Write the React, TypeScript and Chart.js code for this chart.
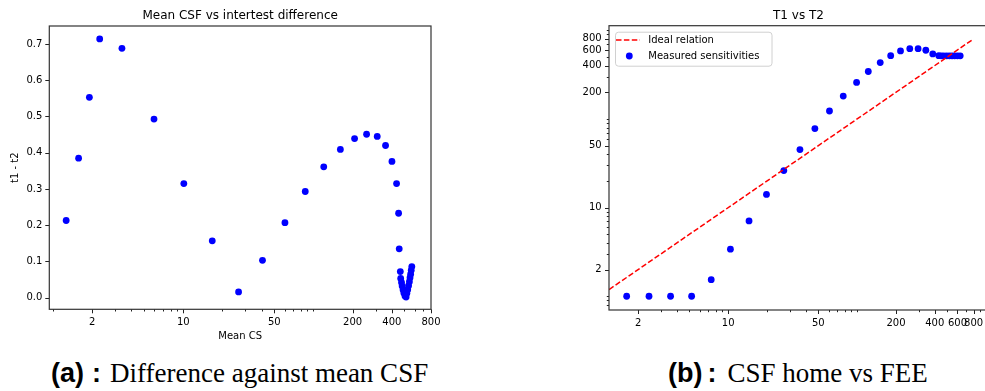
import React, { useEffect, useRef } from "react";
import { Chart, registerables } from "chart.js";
Chart.register(...registerables);

const FONT = "'DejaVu Sans', sans-serif";

// ---- Left chart: Mean CSF vs intertest difference ----
const meanCS = [
  1.26, 1.57, 1.9, 2.28, 3.38, 5.96, 10.1, 16.7, 26.6, 40.6, 60.4, 86.5, 120, 161, 207, 256, 309, 358, 401, 435, 451, 456,
  465, 468, 475, 480, 488, 495, 505, 515, 522, 530, 538, 546, 552, 558, 564, 570,
];
const diffT1T2 = [
  0.213, 0.385, 0.553, 0.714, 0.688, 0.493, 0.315, 0.157, 0.016, 0.103, 0.207, 0.293, 0.361, 0.409, 0.439, 0.451, 0.445, 0.42, 0.376, 0.315, 0.233, 0.135,
  0.072, 0.053, 0.042, 0.032, 0.022, 0.013, 0.005, 0.002, 0.012, 0.022, 0.033, 0.044, 0.055, 0.065, 0.076, 0.086,
];
const leftXTicks = [2, 10, 50, 200, 400, 800];
const leftYTicks = [0, 0.1, 0.2, 0.3, 0.4, 0.5, 0.6, 0.7];

// ---- Right chart: T1 vs T2 ----
const homeCSF = [
  1.63, 2.43, 3.57, 5.2, 7.38, 10.4, 14.5, 19.8, 27, 36, 47, 61, 78, 99, 122, 151, 182, 217, 256, 297, 341, 386,
  430, 450, 470, 495, 520, 545, 570, 600, 630,
];
const feeCSF = [
  1, 1, 1, 1, 1.54, 3.4, 7.07, 14.1, 26.2, 45.2, 77.8, 123, 181, 258, 343, 433, 518, 585, 621, 621, 596, 541,
  518, 515, 515, 515, 515, 515, 515, 515, 515,
];
const idealX = [1.19, 800];
const rightTicks = [2, 10, 50, 200, 400, 600, 800];

function minorLog(min: number, max: number, majors: number[]) {
  const out: number[] = [];
  for (let e = -1; e <= 4; e++) {
    for (let m = 1; m <= 9; m++) {
      const v = e < 0 ? m / 10 : m * Math.pow(10, e);
      if (v >= min && v <= max && !majors.includes(v)) out.push(v);
    }
  }
  return out;
}

function framePlugin(cfg: {
  title: string;
  xMajors: number[];
  xMinors: number[];
  yMajors: number[];
  yMinors: number[];
  legend?: boolean;
}) {
  return {
    id: "frameDecor",
    afterDatasetsDraw(chart: any) {
      const { ctx, chartArea: a, scales } = chart;
      const xs = scales.x;
      const ys = scales.y;
      ctx.save();
      ctx.strokeStyle = "#222";
      ctx.lineWidth = 1;
      const tx = (v: number, len: number) => {
        const p = Math.round(xs.getPixelForValue(v)) + 0.5;
        ctx.beginPath();
        ctx.moveTo(p, a.bottom);
        ctx.lineTo(p, a.bottom + len);
        ctx.stroke();
      };
      const ty = (v: number, len: number) => {
        const p = Math.round(ys.getPixelForValue(v)) + 0.5;
        ctx.beginPath();
        ctx.moveTo(a.left, p);
        ctx.lineTo(a.left - len, p);
        ctx.stroke();
      };
      cfg.xMajors.forEach((v) => tx(v, 4));
      cfg.xMinors.forEach((v) => tx(v, 2.2));
      cfg.yMajors.forEach((v) => ty(v, 4));
      cfg.yMinors.forEach((v) => ty(v, 2.2));
      ctx.strokeStyle = "#333";
      ctx.lineWidth = 1.2;
      ctx.strokeRect(a.left, a.top, a.right - a.left, a.bottom - a.top);
      ctx.fillStyle = "#000";
      ctx.font = `12px ${FONT}`;
      ctx.textAlign = "center";
      ctx.textBaseline = "middle";
      ctx.fillText(cfg.title, (a.left + a.right) / 2, 15.5);

      if (cfg.legend) {
        const lx = a.left + 6;
        const ly = a.top + 6;
        const w = 156.5;
        const h = 34;
        ctx.beginPath();
        ctx.roundRect(lx + 0.5, ly + 0.5, w, h, 3);
        ctx.fillStyle = "rgba(255,255,255,0.85)";
        ctx.fill();
        ctx.strokeStyle = "#d0d0d0";
        ctx.lineWidth = 1;
        ctx.stroke();
        ctx.strokeStyle = "#ff0000";
        ctx.lineWidth = 1.5;
        ctx.setLineDash([5.5, 2.4]);
        ctx.beginPath();
        ctx.moveTo(a.left + 7, a.top + 14.3);
        ctx.lineTo(a.left + 31, a.top + 14.3);
        ctx.stroke();
        ctx.setLineDash([]);
        ctx.fillStyle = "#0000ff";
        ctx.beginPath();
        ctx.arc(a.left + 20.3, a.top + 30.3, 3.4, 0, Math.PI * 2);
        ctx.fill();
        ctx.fillStyle = "#000";
        ctx.font = `10px ${FONT}`;
        ctx.textAlign = "left";
        ctx.textBaseline = "middle";
        ctx.fillText("Ideal relation", a.left + 39.3, a.top + 14.3);
        ctx.fillText("Measured sensitivities", a.left + 39.3, a.top + 30.3);
      }
      ctx.restore();
    },
  };
}

const tickFont = { family: FONT, size: 10 };

export default function App() {
  const leftRef = useRef<HTMLCanvasElement>(null);
  const rightRef = useRef<HTMLCanvasElement>(null);

  useEffect(() => {
    const leftMin = 0.935;
    const leftMax = 800;
    const left = new Chart(leftRef.current!, {
      type: "scatter",
      data: {
        datasets: [
          {
            data: meanCS.map((x, i) => ({ x, y: diffT1T2[i] })),
            backgroundColor: "#0000ff",
            borderColor: "#0000ff",
            borderWidth: 0,
            pointRadius: 3.4,
          },
        ],
      },
      options: {
        animation: false,
        responsive: false,
        devicePixelRatio: 1,
        layout: { padding: { top: 26, left: 0, right: 14, bottom: 0 } },
        plugins: { legend: { display: false }, tooltip: { enabled: false }, title: { display: false } },
        scales: {
          x: {
            type: "logarithmic",
            min: leftMin,
            max: leftMax,
            afterBuildTicks: (s: any) => {
              s.ticks = leftXTicks.map((v) => ({ value: v }));
            },
            afterFit: (s: any) => {
              s.height = 35.7;
            },
            ticks: {
              autoSkip: false,
              maxRotation: 0,
              minRotation: 0,
              padding: 3,
              color: "#000",
              font: tickFont,
              callback: (v: any) => String(v),
            },
            grid: { display: true, drawOnChartArea: false, drawTicks: true, tickLength: 4, color: "rgba(0,0,0,0)" },
            border: { display: false },
            title: { display: true, text: "Mean CS", color: "#000", font: tickFont, padding: { top: 0, bottom: 3 } },
          },
          y: {
            type: "linear",
            min: -0.032,
            max: 0.7497,
            afterBuildTicks: (s: any) => {
              s.ticks = leftYTicks.map((v) => ({ value: v }));
            },
            afterFit: (s: any) => {
              s.width = 49.3;
            },
            ticks: {
              padding: 3,
              color: "#000",
              font: tickFont,
              callback: (v: any) => Number(v).toFixed(1),
            },
            grid: { display: true, drawOnChartArea: false, drawTicks: true, tickLength: 4, color: "rgba(0,0,0,0)" },
            border: { display: false },
            title: { display: true, text: "t1 - t2", color: "#000", font: tickFont, padding: { top: 9, bottom: 0 } },
          },
        },
      },
      plugins: [
        framePlugin({
          title: "Mean CSF vs intertest difference",
          xMajors: leftXTicks,
          xMinors: minorLog(leftMin, leftMax, leftXTicks),
          yMajors: leftYTicks,
          yMinors: [],
        }),
      ],
    } as any);

    const rxMin = 1.189;
    const rxMax = 1035;
    const ryMin = 0.72;
    const ryMax = 1127;
    const right = new Chart(rightRef.current!, {
      type: "scatter",
      data: {
        datasets: [
          {
            type: "line",
            data: idealX.map((x) => ({ x, y: x })),
            borderColor: "#ff0000",
            borderWidth: 1.5,
            borderDash: [5.5, 2.4],
            pointRadius: 0,
            showLine: true,
            fill: false,
          },
          {
            data: homeCSF.map((x, i) => ({ x, y: feeCSF[i] })),
            backgroundColor: "#0000ff",
            borderColor: "#0000ff",
            borderWidth: 0,
            pointRadius: 3.4,
          },
        ],
      },
      options: {
        animation: false,
        responsive: false,
        devicePixelRatio: 1,
        layout: { padding: { top: 25.7, left: 0, right: 12, bottom: 0 } },
        plugins: { legend: { display: false }, tooltip: { enabled: false }, title: { display: false } },
        scales: {
          x: {
            type: "logarithmic",
            min: rxMin,
            max: rxMax,
            afterBuildTicks: (s: any) => {
              s.ticks = rightTicks.map((v) => ({ value: v }));
            },
            afterFit: (s: any) => {
              s.height = 35;
            },
            ticks: {
              autoSkip: false,
              maxRotation: 0,
              minRotation: 0,
              padding: 3,
              color: "#000",
              font: tickFont,
              callback: (v: any) => String(v),
            },
            grid: { display: true, drawOnChartArea: false, drawTicks: true, tickLength: 4, color: "rgba(0,0,0,0)" },
            border: { display: false },
          },
          y: {
            type: "logarithmic",
            min: ryMin,
            max: ryMax,
            afterBuildTicks: (s: any) => {
              s.ticks = rightTicks.map((v) => ({ value: v }));
            },
            afterFit: (s: any) => {
              s.width = 49;
            },
            ticks: {
              autoSkip: false,
              padding: 3.3,
              color: "#000",
              font: tickFont,
              callback: (v: any) => String(v),
            },
            grid: { display: true, drawOnChartArea: false, drawTicks: true, tickLength: 4, color: "rgba(0,0,0,0)" },
            border: { display: false },
          },
        },
      },
      plugins: [
        framePlugin({
          title: "T1 vs T2",
          xMajors: rightTicks,
          xMinors: minorLog(rxMin, rxMax, rightTicks),
          yMajors: rightTicks,
          yMinors: minorLog(ryMin, ryMax, rightTicks),
          legend: true,
        }),
      ],
    } as any);

    return () => {
      left.destroy();
      right.destroy();
    };
  }, []);

  const capSerif = "'Liberation Serif', 'Times New Roman', serif";
  const capSans = "'Liberation Sans', 'DejaVu Sans', sans-serif";
  const capBox: React.CSSProperties = {
    position: "absolute",
    top: 360,
    whiteSpace: "nowrap",
    fontSize: 27,
    lineHeight: "27px",
    color: "#000",
    fontFamily: capSerif,
  };

  return (
    <div
      style={{
        position: "absolute",
        left: 0,
        top: 0,
        width: 985,
        height: 391,
        overflow: "hidden",
        background: "#fff",
      }}
    >
      <canvas ref={leftRef} width={445} height={345} style={{ position: "absolute", left: 0, top: 0 }} />
      <canvas ref={rightRef} width={440} height={345} style={{ position: "absolute", left: 560, top: 0 }} />
      <div style={{ ...capBox, left: 51 }}>
        <span style={{ fontFamily: capSans, fontWeight: "bold" }}>(a)</span>
        <span style={{ fontFamily: capSans, fontWeight: "bold", marginLeft: 8 }}>:</span>
        <span style={{ marginLeft: 9 }}>Difference against mean CSF</span>
      </div>
      <div style={{ ...capBox, left: 668 }}>
        <span style={{ fontFamily: capSans, fontWeight: "bold" }}>(b)</span>
        <span style={{ fontFamily: capSans, fontWeight: "bold", marginLeft: 5 }}>:</span>
        <span style={{ marginLeft: 11 }}>CSF home vs FEE</span>
      </div>
    </div>
  );
}
